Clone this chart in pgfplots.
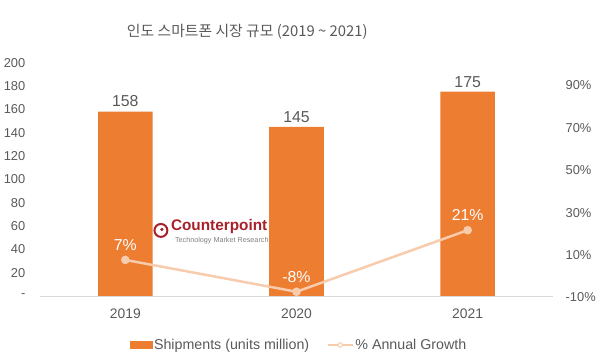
\documentclass[border=0pt]{standalone}
\usepackage{pgfplots}
\pgfplotsset{compat=1.18}
\usepackage{fontspec}
\setmainfont{Liberation Sans}
\newfontfamily\kr{Noto Sans CJK KR}
\definecolor{barc}{HTML}{ED7D31}
\definecolor{linec}{HTML}{F8CBAD}
\definecolor{txt}{HTML}{595959}
\definecolor{cp}{HTML}{A8202A}
\definecolor{basec}{HTML}{D9D9D9}
\begin{document}
\begin{tikzpicture}
\path (0bp,0bp) rectangle (599bp,356bp);
\begin{axis}[at={(40bp,58bp)}, anchor=south west, width=517bp, height=235bp, scale only axis,
  xmin=-0.5, xmax=2.5, ymin=0, ymax=200,
  xtick={0,1,2}, xticklabels={2019,2020,2021},
  ytick={0,20,...,200}, yticklabels={-,20,40,60,80,100,120,140,160,180,200},
  axis line style={draw=none}, major tick length=0pt,
  /pgf/number format/assume math mode=true,
  ticklabel style={font=\fontsize{13}{15}\selectfont, text=txt},
  yticklabel style={xshift=-11bp},
  xticklabel style={yshift=-9bp, font=\fontsize{14}{16}\selectfont},
  clip=false]
\draw[basec, line width=0.8bp] (rel axis cs:0,0) -- (rel axis cs:1,0);
\addplot[ybar, bar width=55bp, fill=barc, draw=none,
  nodes near coords,
  nodes near coords style={font=\fontsize{16}{19}\selectfont, text=txt, yshift=1bp}]
  coordinates {(0,158) (1,145) (2,175)};
\end{axis}
\begin{axis}[at={(40bp,58bp)}, anchor=south west, width=517bp, height=235bp, scale only axis,
  xmin=-0.5, xmax=2.5, ymin=-10, ymax=100,
  xtick=\empty,
  ytick={-10,10,...,90}, yticklabel pos=right,
  yticklabel={\pgfmathprintnumber{\tick}\%},
  axis line style={draw=none}, major tick length=0pt,
  /pgf/number format/assume math mode=true,
  ticklabel style={font=\fontsize{13}{15}\selectfont, text=txt},
  yticklabel style={xshift=9bp, yshift=-1.5bp},
  clip=false,
  legend columns=2,
  legend style={draw=none, fill=none, at={(0.505,-0.21)}, anchor=center,
    font=\fontsize{14.4}{17}\selectfont, text=txt,
    /tikz/every even column/.append style={column sep=16bp}},
  ]
\addlegendimage{legend image code/.code={\fill[barc] (-2bp,-3.5bp) rectangle (20bp,3.5bp);}}
\addlegendentry{Shipments (units million)}
\addlegendimage{legend image code/.code={\draw[linec, line width=1.5bp] (0bp,0bp) -- (25bp,0bp); \draw[linec, line width=1bp, fill=white] (12.5bp,0bp) circle (2.3bp);}}
\addlegendentry{\% Annual Growth}
\addplot[forget plot, linec, line width=2.5bp, mark=*, mark size=3bp, mark options={fill=linec, draw=linec},
  nodes near coords={\pgfmathprintnumber{\pgfplotspointmeta}\%},
  nodes near coords style={text=white, font=\fontsize{16}{19}\selectfont, anchor=south, yshift=5bp}]
  coordinates {(0,7) (1,-8) (2,21)};
\end{axis}
\node[font=\kr\fontsize{15}{18}\selectfont, text=txt] at (249bp,324bp) {인도 스마트폰 시장 규모 (2019 \textasciitilde{} 2021)};
\draw[cp, line width=2bp] (162bp,124bp) circle (6.5bp);
\fill[cp] (163bp,125bp) circle (1.8bp);
\node[font=\bfseries\fontsize{15.5}{18}\selectfont, text=cp, anchor=west, inner sep=0] at (172bp,128bp) {Counterpoint};
\node[font=\fontsize{7.3}{9}\selectfont, text=gray, anchor=west, inner sep=0] at (176bp,114bp) {Technology Market Research};
\end{tikzpicture}
\end{document}
